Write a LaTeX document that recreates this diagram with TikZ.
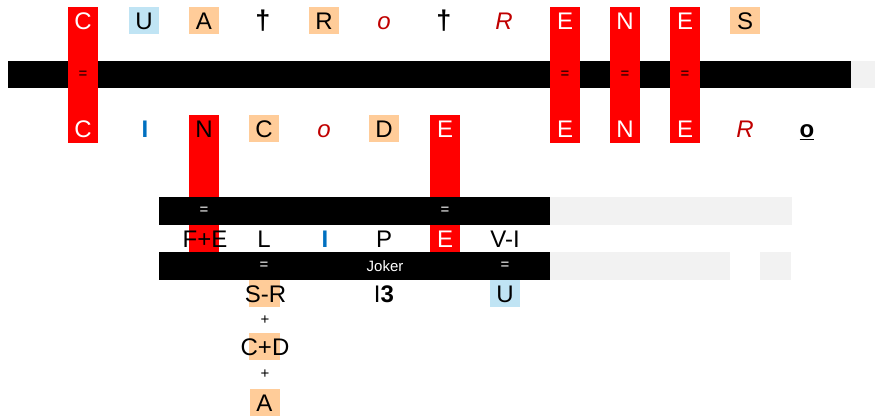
\documentclass[tikz,border=0pt]{standalone}
\usepackage{fontspec}
\setmainfont{Liberation Sans}
\definecolor{peach}{HTML}{FFCC99}
\definecolor{lblue}{HTML}{C0E4F4}
\definecolor{dred}{HTML}{C00000}
\definecolor{iblue}{HTML}{0070C0}
\definecolor{lgray}{HTML}{F2F2F2}
\definecolor{bred}{HTML}{FF0000}
\begin{document}
\begin{tikzpicture}[x=1pt,y=-1pt,
  cell/.style={minimum width=30pt,minimum height=27pt,inner sep=0pt,text height=17.2pt,text depth=0pt,font=\fontsize{24}{24}\selectfont},
  redcell/.style={cell,fill=bred,text=white},
  peachcell/.style={cell,fill=peach},
  bluecell/.style={cell,fill=lblue},
  itred/.style={cell,text=dred,font=\fontsize{24}{24}\selectfont\itshape},
  blueI/.style={cell,text=iblue,font=\fontsize{24}{24}\selectfont\bfseries},
  dagger/.style={inner sep=0pt,font=\fontsize{27}{27}\selectfont\bfseries},
  eqsign/.style={inner sep=0pt,font=\fontsize{15}{15}\selectfont},
  weq/.style={eqsign,text=white},
  barfill/.style={fill=black},
  grayfill/.style={fill=lgray},
  redfill/.style={fill=bred},
  peachfill/.style={fill=peach}]
\useasboundingbox (0,0) rectangle (875,417);
% bar 1
\fill[barfill] (8,61) rectangle (851,88.5);
\fill[grayfill] (851,61) rectangle (875,88.5);
% red columns through bar 1
\fill[redfill] (68,7) rectangle (98,143);
\fill[redfill] (550,7) rectangle (580,143);
\fill[redfill] (610,7) rectangle (640,143);
\fill[redfill] (670,7) rectangle (700,143);
% red columns below row 2
\fill[redfill] (189,115) rectangle (219,252);
\fill[redfill] (430,115) rectangle (460,252);
% bars 2 and 3
\fill[barfill] (159,197) rectangle (550,225);
\fill[grayfill] (550,197) rectangle (792,225);
\fill[barfill] (159,252) rectangle (550,280);
\fill[grayfill] (550,252) rectangle (730,280);
\fill[grayfill] (760,252) rectangle (791,280);
% peach boxes under wide labels
\fill[peachfill] (249,280) rectangle (280,307);
\fill[peachfill] (249,333) rectangle (280,360);
% row 1
\node[redcell] (a1) at (83,20.5) {C};
\node[bluecell] (a2) at (144,20.5) {U};
\node[peachcell] (a3) at (204,20.5) {A};
\node[dagger] (a4) at (263,21) {†};
\node[peachcell] (a5) at (324,20.5) {R};
\node[itred] (a6) at (384,20.5) {o};
\node[dagger] (a7) at (444,21) {†};
\node[itred] (a8) at (504,20.5) {R};
\node[redcell] (a9) at (565,20.5) {E};
\node[redcell] (a10) at (625,20.5) {N};
\node[redcell] (a11) at (685,20.5) {E};
\node[peachcell] (a12) at (745,20.5) {S};
% bar 1 signs
\node[eqsign] (e1) at (83,75) {=};
\node[eqsign] (e2) at (565,75) {=};
\node[eqsign] (e3) at (625,75) {=};
\node[eqsign] (e4) at (685,75) {=};
% row 2
\node[redcell] (b1) at (83,129) {C};
\node[blueI] (b2) at (145,129) {I};
\node[cell] (b3) at (204,129) {N};
\node[peachcell] (b4) at (264,129) {C};
\node[itred] (b5) at (324,129) {o};
\node[peachcell] (b6) at (384,129) {D};
\node[cell,text=white] (b7) at (445,129) {E};
\node[redcell] (b8) at (565,129) {E};
\node[redcell] (b9) at (625,129) {N};
\node[redcell] (b10) at (685,129) {E};
\node[itred] (b11) at (745,129) {R};
\node[cell] (b12) at (807,129) {\underline{\textbf{o}}};
% bar 2 signs
\node[weq] (f1) at (204,211) {=};
\node[weq] (f2) at (445,211) {=};
% row 3
\node[cell] (c1) at (205,238.5) {F+E};
\node[cell] (c2) at (264,238.5) {L};
\node[blueI] (c3) at (325,238.5) {I};
\node[cell] (c4) at (384,238.5) {P};
\node[cell,text=white] (c5) at (445,238.5) {E};
\node[cell] (c6) at (505,238.5) {V-I};
% bar 3 signs
\node[weq] (g1) at (264,266) {=};
\node[inner sep=0pt,text=white,font=\fontsize{15}{15}\selectfont] (g2) at (385,266) {Joker};
\node[weq] (g3) at (505,266) {=};
% row 4 and below
\node[cell] (d1) at (265.5,293.5) {S-R};
\node[cell] (d2) at (384,293.5) {I\textbf{3}};
\node[bluecell] (d3) at (505,293.5) {U};
\node[eqsign] (p1) at (265,320) {+};
\node[cell] (d4) at (265,346.5) {C+D};
\node[eqsign] (p2) at (265,374) {+};
\node[peachcell] (d5) at (264.5,402.5) {A};
\end{tikzpicture}
\end{document}
